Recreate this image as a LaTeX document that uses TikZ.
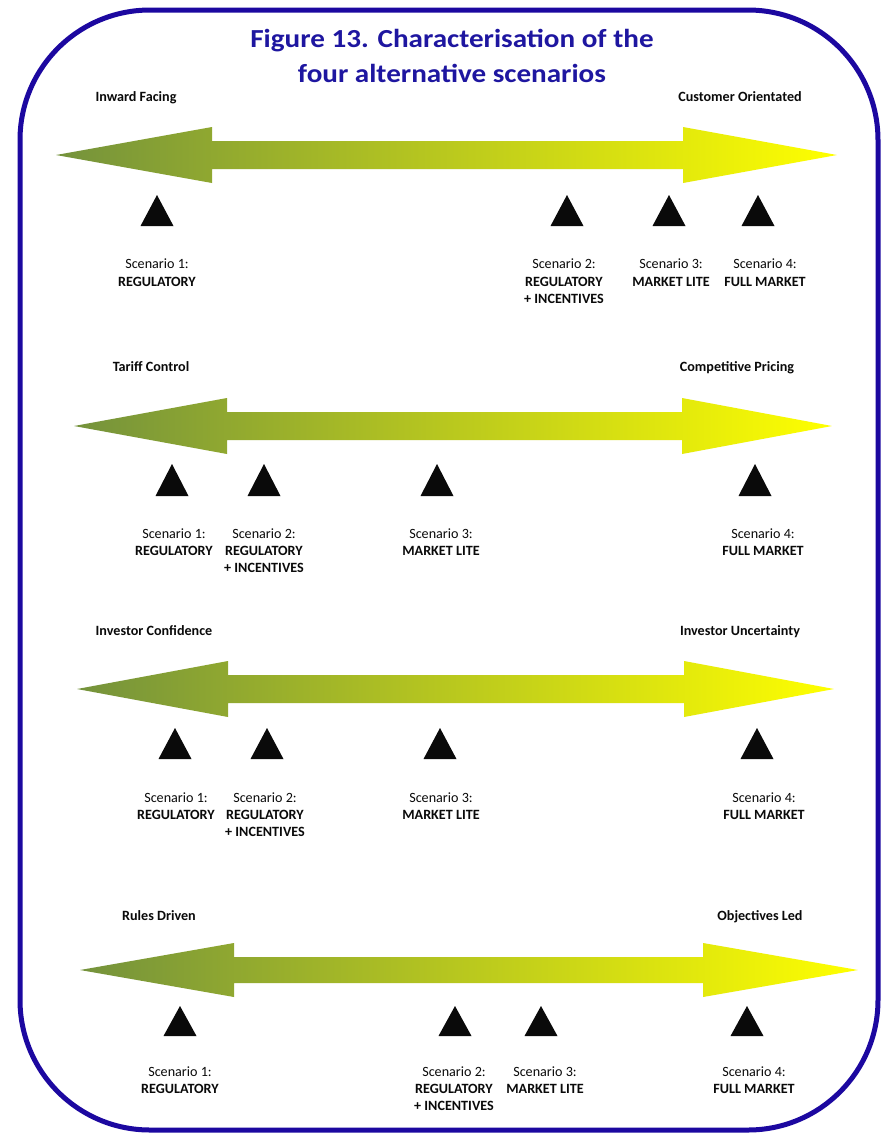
\documentclass[tikz,border=0pt]{standalone}
\usepackage{fontspec}
\setmainfont{Carlito}
\newfontfamily\headfont[FakeStretch=1.12]{Carlito}
\definecolor{frameblue}{RGB}{28,8,160}
\definecolor{titleblue}{RGB}{30,22,160}
\definecolor{olivegreen}{RGB}{116,146,60}
\definecolor{brightyellow}{RGB}{255,255,0}
\definecolor{inkblack}{RGB}{10,10,10}

% double-headed band: left tip, left head base, right head base, right tip, centre line, head half-height, shaft half-height
\newcommand\axisband[7]{%
  \path[band] ({#1},{#5}) -- ({#2},{#5-#6}) -- ({#2},{#5-#7}) -- ({#3},{#5-#7})
    -- ({#3},{#5-#6}) -- ({#4},{#5}) -- ({#3},{#5+#6}) -- ({#3},{#5+#7})
    -- ({#2},{#5+#7}) -- ({#2},{#5+#6}) -- cycle;}
% solid position marker: centre x, apex y, base y
\newcommand\posmarker[3]{%
  \fill[inkblack] ({#1-16.5},{#3}) -- ({#1},{#2}) -- ({#1+16.5},{#3}) -- cycle;}

\begin{document}
\begin{tikzpicture}[x=0.75pt,y=-0.75pt,
  frame/.style={draw=frameblue, line width=3.75pt, rounded corners=97.5pt},
  title/.style={font=\headfont\fontsize{19.5}{26.25}\selectfont\bfseries, text=titleblue, align=center, inner sep=0pt},
  axislabel/.style={font=\fontsize{10.6}{13}\selectfont\bfseries, text=inkblack, anchor=base, inner sep=0pt},
  scen/.style={font=\fontsize{10.6}{13.1}\selectfont, text=inkblack, align=center, anchor=north, inner sep=0pt},
  band/.style={left color=olivegreen, right color=brightyellow, draw=none}
]
\useasboundingbox (0,0) rectangle (884,1133);
\fill[white] (0,0) rectangle (884,1133);

% outer frame
\draw[frame] (20,10) rectangle (878,1130);

% heading
\node[title] (heading) at (452,56) {Figure 13. Characterisation of the\\four alternative scenarios};

% ---- axis 1 ----
\node[axislabel] (inward) at (136,101.5) {Inward Facing};
\node[axislabel] (customer) at (740,101.5) {Customer Orientated};
\axisband{56}{212}{683}{837}{155}{28}{14}
\foreach \x in {157,567,669,758} {\posmarker{\x}{195}{226}}
\node[scen] (a1s1) at (157,259) {Scenario 1:\\\textbf{REGULATORY}};
\node[scen] (a1s2) at (564,259) {Scenario 2:\\\textbf{REGULATORY}\\\textbf{+ INCENTIVES}};
\node[scen] (a1s3) at (671,259) {Scenario 3:\\\textbf{MARKET LITE}};
\node[scen] (a1s4) at (765,259) {Scenario 4:\\\textbf{FULL MARKET}};

% ---- axis 2 ----
\node[axislabel] (tariff) at (151,371.5) {Tariff Control};
\node[axislabel] (pricing) at (737,371.5) {Competitive Pricing};
\axisband{74}{227}{682}{832}{426}{28}{14}
\foreach \x in {172,264,437,755} {\posmarker{\x}{464}{496}}
\node[scen] (a2s1) at (174,528) {Scenario 1:\\\textbf{REGULATORY}};
\node[scen] (a2s2) at (264,528) {Scenario 2:\\\textbf{REGULATORY}\\\textbf{+ INCENTIVES}};
\node[scen] (a2s3) at (441,528) {Scenario 3:\\\textbf{MARKET LITE}};
\node[scen] (a2s4) at (763,528) {Scenario 4:\\\textbf{FULL MARKET}};

% ---- axis 3 ----
\node[axislabel] (confidence) at (154,635.5) {Investor Confidence};
\node[axislabel] (uncertainty) at (740,635.5) {Investor Uncertainty};
\axisband{77}{228}{684}{834}{689}{28}{14}
\foreach \x in {175,267,440,757} {\posmarker{\x}{728}{759}}
\node[scen] (a3s1) at (176,792) {Scenario 1:\\\textbf{REGULATORY}};
\node[scen] (a3s2) at (265,792) {Scenario 2:\\\textbf{REGULATORY}\\\textbf{+ INCENTIVES}};
\node[scen] (a3s3) at (441,792) {Scenario 3:\\\textbf{MARKET LITE}};
\node[scen] (a3s4) at (764,792) {Scenario 4:\\\textbf{FULL MARKET}};

% ---- axis 4 ----
\node[axislabel] (rules) at (159,920.5) {Rules Driven};
\node[axislabel] (objectives) at (760,920.5) {Objectives Led};
\axisband{80}{234}{703}{858}{970}{27}{13}
\foreach \x in {180,455,541,747} {\posmarker{\x}{1006}{1036}}
\node[scen] (a4s1) at (180,1066) {Scenario 1:\\\textbf{REGULATORY}};
\node[scen] (a4s2) at (454,1066) {Scenario 2:\\\textbf{REGULATORY}\\\textbf{+ INCENTIVES}};
\node[scen] (a4s3) at (545,1066) {Scenario 3:\\\textbf{MARKET LITE}};
\node[scen] (a4s4) at (754,1066) {Scenario 4:\\\textbf{FULL MARKET}};
\end{tikzpicture}
\end{document}
